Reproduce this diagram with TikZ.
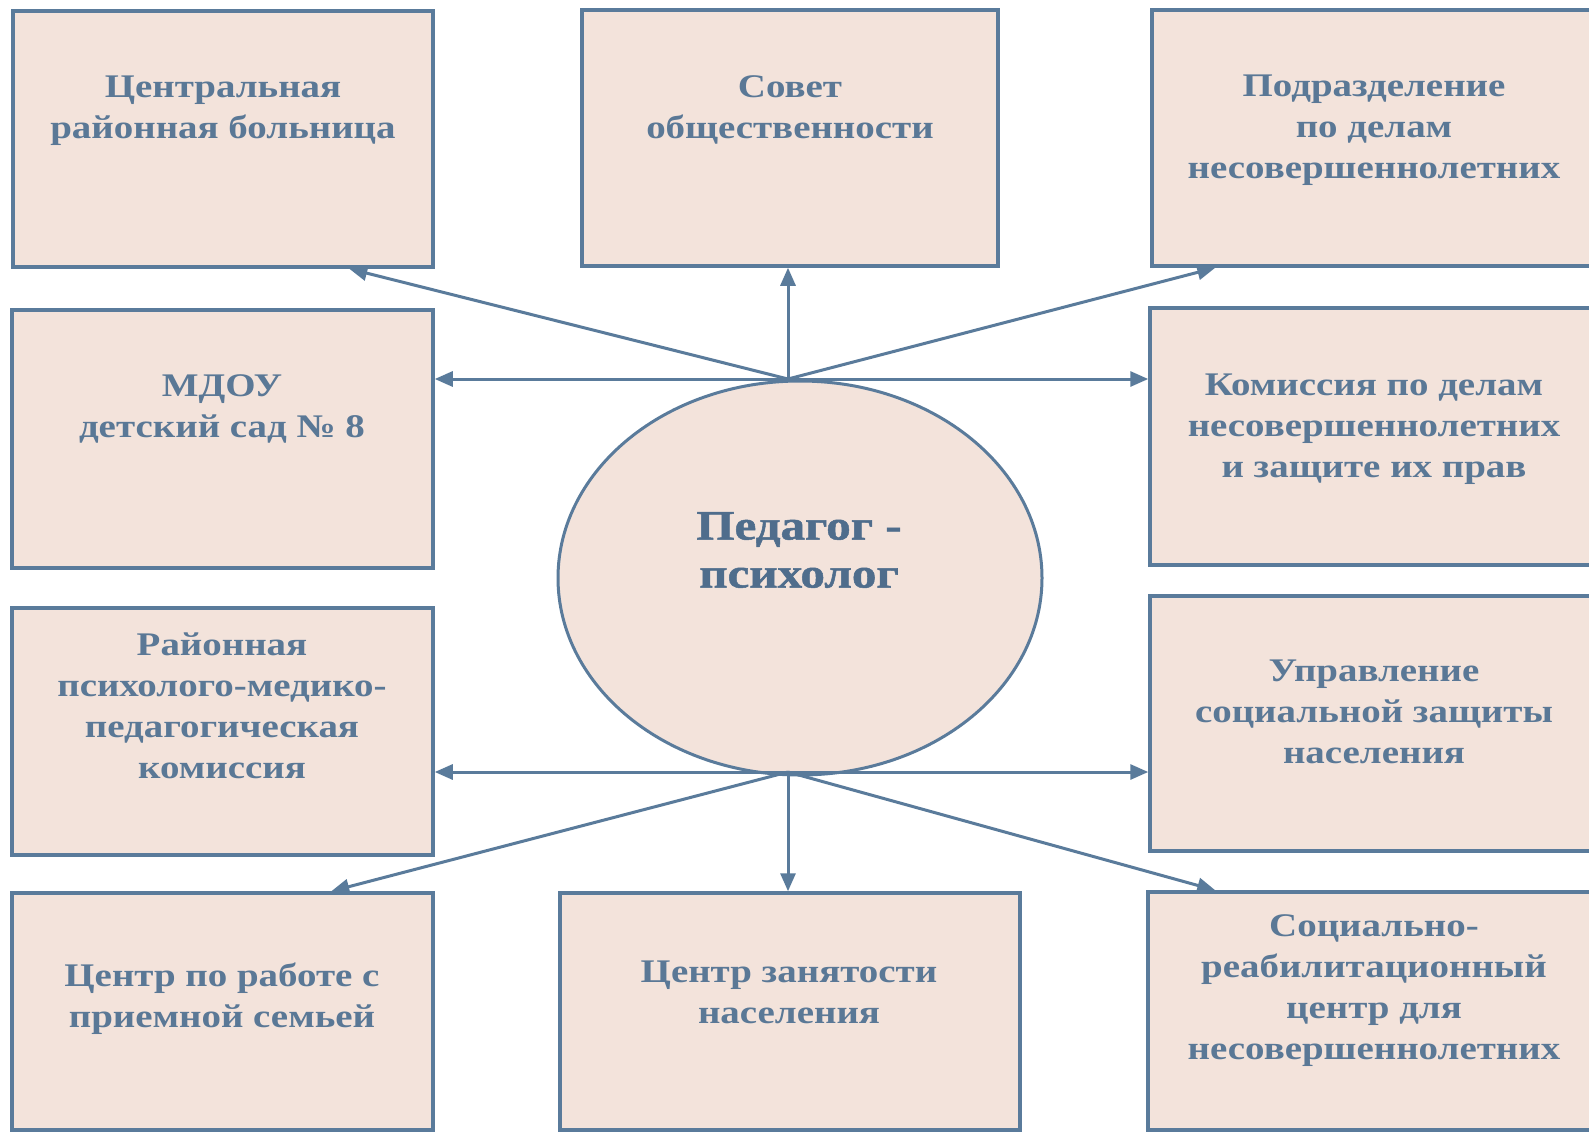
\documentclass[tikz,border=0pt]{standalone}
\usepackage{fontspec}
\setmainfont[FakeStretch=1.18]{Liberation Serif}
\newfontfamily\heavyfont[FakeStretch=1.17,BoldFeatures={FakeBold=1.2}]{Liberation Serif}
\usetikzlibrary{arrows.meta,shapes.geometric}
\definecolor{lineblue}{HTML}{5A7B9B}
\definecolor{textblue}{HTML}{5A7896}
\definecolor{textdark}{HTML}{4F6D8C}
\definecolor{boxfill}{HTML}{F3E3DB}
\begin{document}
\begin{tikzpicture}[x=1pt,y=-1pt,
 orgbox/.style={draw=lineblue, line width=3.5pt, fill=boxfill, rectangle, inner sep=0pt},
 lbl/.style={text=textblue, font=\fontsize{33}{41}\selectfont\bfseries, align=center, inner sep=0pt},
 arr/.style={draw=lineblue, line width=3pt, -{Triangle[length=18pt,width=15pt]}}]
\useasboundingbox (0,0) rectangle (1589,1132);
\clip (0,0) rectangle (1589,1132);
\fill[white] (0,0) rectangle (1589,1132);

% boxes
\node[orgbox, minimum width=420pt, minimum height=256pt] (tl) at (223,139) {};
\node[orgbox, minimum width=416pt, minimum height=256pt] (tm) at (790,138) {};
\node[orgbox, minimum width=444pt, minimum height=256pt] (tr) at (1374,138) {};
\node[orgbox, minimum width=421pt, minimum height=258pt] (ml) at (222.5,439) {};
\node[orgbox, minimum width=446pt, minimum height=257pt] (mr) at (1373,436.5) {};
\node[orgbox, minimum width=421pt, minimum height=247pt] (l3) at (222.5,731.5) {};
\node[orgbox, minimum width=446pt, minimum height=255pt] (r3) at (1373,723.5) {};
\node[orgbox, minimum width=421pt, minimum height=237pt] (bl) at (222.5,1011.5) {};
\node[orgbox, minimum width=460pt, minimum height=237pt] (bm) at (790,1011.5) {};
\node[orgbox, minimum width=448pt, minimum height=238pt] (br) at (1372,1011) {};

% ellipse
\node[draw=lineblue, line width=3pt, fill=boxfill, ellipse, minimum width=484pt, minimum height=394pt, inner sep=0pt] (psy) at (800,578) {};

% labels
\node[lbl] (tlt) at (223,111) {Центральная\\районная больница};
\node[lbl] (tmt) at (790,110) {Совет\\общественности};
\node[lbl] (trt) at (1374,130) {Подразделение\\по делам\\несовершеннолетних};
\node[lbl] (mlt) at (222,409) {МДОУ\\детский сад № 8};
\node[lbl] (mrt) at (1374,429) {Комиссия по делам\\несовершеннолетних\\и защите их прав};
\node[lbl] (l3t) at (222,706) {Районная\\психолого-медико-\\педагогическая\\комиссия};
\node[lbl] (r3t) at (1374,712) {Управление\\социальной защиты\\населения};
\node[lbl] (blt) at (222,999) {Центр по работе с\\приемной семьей};
\node[lbl] (bmt) at (789,992) {Центр занятости\\населения};
\node[lbl] (brt) at (1374,991) {Социально-\\реабилитационный\\центр для\\несовершеннолетних};
\node[text=textdark, font=\heavyfont\fontsize{42}{48}\selectfont\bfseries, align=center, inner sep=0pt] (psyt) at (799,550) {Педагог -\\психолог};

% hubs
\coordinate (hubT) at (788,379);
\coordinate (hubB) at (788,772);

% connectors
\draw[arr] (hubT) -- ([xshift=338pt]tl.south west);
\draw[arr] (hubT) -- (hubT |- tm.south);
\draw[arr] (hubT) -- ([xshift=65pt]tr.south west);
\draw[arr] (hubT) -- (hubT -| ml.east);
\draw[arr] (hubT) -- (hubT -| mr.west);
\draw[arr] (hubB) -- (hubB -| l3.east);
\draw[arr] (hubB) -- (hubB -| r3.west);
\draw[arr] (hubB) -- ([xshift=321pt]bl.north west);
\draw[arr] (hubB) -- (hubB |- bm.north);
\draw[arr] (hubB) -- ([xshift=69pt]br.north west);
\end{tikzpicture}
\end{document}
